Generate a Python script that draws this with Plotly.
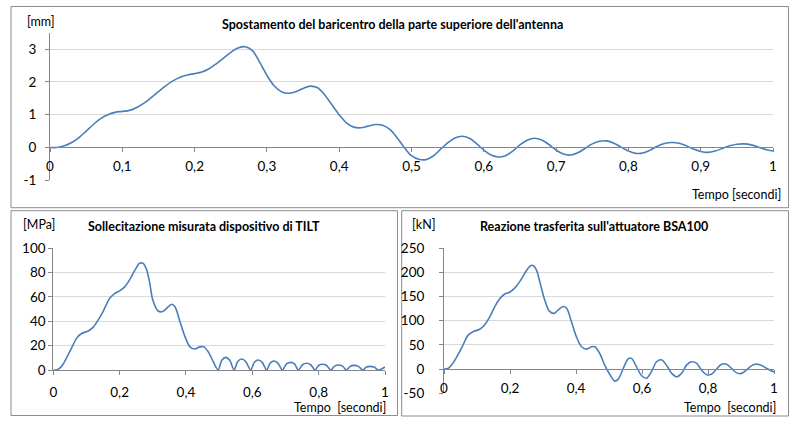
import plotly.graph_objects as go

# ---------------- data ----------------
t_top = [0, 0.01, 0.02, 0.03, 0.04, 0.05, 0.06, 0.07, 0.08, 0.09, 0.10, 0.11, 0.12, 0.13, 0.14,
         0.15, 0.16, 0.17, 0.18, 0.19, 0.20, 0.21, 0.22, 0.23, 0.24, 0.25, 0.26, 0.27, 0.28, 0.29,
         0.30, 0.31, 0.32, 0.33, 0.34, 0.35, 0.36, 0.37, 0.38, 0.39, 0.40, 0.41, 0.42, 0.43, 0.44,
         0.45, 0.46, 0.47, 0.48, 0.49, 0.50, 0.51, 0.52, 0.53, 0.54, 0.55, 0.56, 0.57, 0.58, 0.59,
         0.60, 0.61, 0.62, 0.63, 0.64, 0.65, 0.66, 0.67, 0.68, 0.69, 0.70, 0.71, 0.72, 0.73, 0.74,
         0.75, 0.76, 0.77, 0.78, 0.79, 0.80, 0.81, 0.82, 0.83, 0.84, 0.85, 0.86, 0.87, 0.88, 0.89,
         0.90, 0.91, 0.92, 0.93, 0.94, 0.95, 0.96, 0.97, 0.98, 0.99, 1.00]
disp_mm = [0, 0.0, 0.05, 0.15, 0.3, 0.5, 0.7, 0.88, 1.0, 1.07, 1.1, 1.13, 1.22, 1.35, 1.52,
           1.7, 1.88, 2.03, 2.14, 2.21, 2.25, 2.3, 2.4, 2.55, 2.72, 2.9, 3.03, 3.07, 2.95, 2.6,
           2.2, 1.88, 1.7, 1.65, 1.7, 1.8, 1.87, 1.82, 1.6, 1.3, 1.0, 0.75, 0.62, 0.6, 0.65,
           0.7, 0.68, 0.55, 0.3, 0.0, -0.25, -0.36, -0.37, -0.26, -0.06, 0.14, 0.29, 0.34, 0.28, 0.12,
           -0.08, -0.23, -0.29, -0.25, -0.11, 0.08, 0.22, 0.28, 0.23, 0.09, -0.08, -0.2, -0.23, -0.16, -0.03,
           0.11, 0.19, 0.2, 0.13, 0.01, -0.11, -0.18, -0.17, -0.08, 0.04, 0.12, 0.15, 0.13, 0.05, -0.05,
           -0.12, -0.15, -0.11, -0.03, 0.05, 0.1, 0.11, 0.08, 0.01, -0.06, -0.11]

t_stress = [0, 0.01, 0.025, 0.04, 0.055, 0.07, 0.085, 0.105, 0.12, 0.135, 0.15, 0.17, 0.186, 0.2,
            0.216, 0.23, 0.246, 0.26, 0.27, 0.28, 0.29, 0.30, 0.316, 0.33, 0.347, 0.357, 0.367,
            0.382, 0.397, 0.412, 0.427, 0.442, 0.454, 0.467, 0.482, 0.497,
            0.508, 0.52, 0.532, 0.545, 0.556, 0.568, 0.58, 0.595, 0.606, 0.618, 0.63, 0.643,
            0.654, 0.665, 0.677, 0.691, 0.703, 0.716, 0.727, 0.739, 0.751, 0.764, 0.776, 0.789,
            0.8, 0.812, 0.824, 0.836, 0.848, 0.86, 0.872, 0.884, 0.895, 0.907, 0.92, 0.933,
            0.944, 0.955, 0.967, 0.98, 1.0]
stress_mpa = [0, 0, 3, 10, 18, 26, 30, 32, 35, 41, 48, 59, 63, 65,
              68.5, 74, 82, 87.7, 87.7, 83.5, 72.6, 57.5, 48.5, 48, 52, 54, 52,
              39.7, 27.4, 19, 17.3, 19, 19, 15, 7, 0,
              8, 10.4, 8, 0, 7, 9, 7, 0, 6.3, 8.2, 6.3, 0,
              5.7, 7.4, 5.7, 0, 5, 6.3, 5, 0, 4.3, 5.5, 4.3, 0,
              3.7, 4.7, 3.7, 0, 3.2, 4.1, 3.2, 0, 3, 3.8, 3, 0,
              2.4, 3, 2.4, 0, 2.5]

t_react = [0, 0.012, 0.027, 0.042, 0.058, 0.073, 0.088, 0.108, 0.123, 0.139, 0.154, 0.17, 0.184,
           0.2, 0.214, 0.23, 0.245, 0.26, 0.27, 0.28, 0.29, 0.305, 0.32, 0.334, 0.346, 0.361,
           0.371, 0.386, 0.401, 0.417, 0.432, 0.447, 0.457, 0.472, 0.487, 0.503, 0.518, 0.528,
           0.543, 0.558, 0.568, 0.583, 0.599, 0.614, 0.629, 0.644, 0.659, 0.674, 0.69, 0.705,
           0.72, 0.735, 0.75, 0.765, 0.78, 0.796, 0.81, 0.826, 0.841, 0.856, 0.872, 0.887,
           0.902, 0.917, 0.932, 0.947, 0.963, 0.978, 1.0]
react_kn = [0, 1, 12, 29, 50, 70, 77, 82, 91, 108, 129, 146, 155,
            159, 167, 181, 198, 212, 214, 205, 181, 143, 119, 115, 122, 129,
            126, 98, 67, 46, 41, 46, 46, 32, 8, -12, -25, -21,
            1, 21, 22, 5, -14, -19, -5, 15, 19, 8, -9, -16,
            -9, 8, 15, 12, -2, -12, -11, 0, 10, 10, 1, -8,
            -9, -2, 7, 10, 7, 1, -6]

# ---------------- styling ----------------
W, H = 800, 425
LINE = "#4a7ebb"
GRID = "#d9d9d9"
AXIS = "#868686"
BORDER = "#8c8c8c"
FONT = "Lato"
TXT = "#000000"


def px(x):
    return x / W


def py(y):
    return 1 - y / H


fig = go.Figure()
fig.add_trace(go.Scatter(x=t_top, y=disp_mm, mode="lines", line=dict(color=LINE, width=1.6, shape="spline", smoothing=1.0),
                         xaxis="x", yaxis="y", hoverinfo="skip"))
fig.add_trace(go.Scatter(x=t_stress, y=stress_mpa, mode="lines", line=dict(color=LINE, width=1.6, shape="spline", smoothing=0.8),
                         xaxis="x2", yaxis="y2", hoverinfo="skip"))
fig.add_trace(go.Scatter(x=t_react, y=react_kn, mode="lines", line=dict(color=LINE, width=1.6, shape="spline", smoothing=1.0),
                         xaxis="x3", yaxis="y3", hoverinfo="skip"))

tickfont = dict(family=FONT, size=13.5, color=TXT)

xcommon = dict(range=[0, 1], showgrid=False, zeroline=False, showline=True, linecolor=AXIS, linewidth=1,
               ticks="outside", ticklen=4, tickcolor=AXIS, tickfont=tickfont, fixedrange=True,
               automargin=False)
ycommon = dict(showgrid=True, gridcolor=GRID, gridwidth=1, zeroline=False, showline=True, linecolor=AXIS,
               linewidth=1, ticks="outside", ticklen=4, tickcolor=AXIS, tickfont=tickfont, fixedrange=True,
               automargin=False)

fig.update_layout(
    template="none",
    width=W, height=H, autosize=False,
    margin=dict(l=0, r=0, t=0, b=0, pad=0),
    paper_bgcolor="white", plot_bgcolor="white",
    showlegend=False,
    separators=", ",
    font=dict(family=FONT, color=TXT),
    xaxis=dict(xcommon, domain=[px(50), px(773)], dtick=0.1, tick0=0, anchor="free", position=py(147),
               ticklabelstandoff=3),
    yaxis=dict(ycommon, domain=[py(180.3), py(32.6)], range=[-1, 3.5], tickvals=[-1, 0, 1, 2, 3],
               ticktext=["-1", "0", "1", "2", "3"], anchor="x", ticklabelstandoff=6),
    xaxis2=dict(xcommon, domain=[px(53.3), px(385)], dtick=0.2, tick0=0, anchor="y2",
                ticklabelstandoff=6),
    yaxis2=dict(ycommon, domain=[py(370), py(248.3)], range=[0, 100], dtick=20, anchor="x2",
                ticklabelstandoff=0),
    xaxis3=dict(xcommon, domain=[px(444), px(774)], dtick=0.2, tick0=0, anchor="free", position=py(369),
                ticklabelstandoff=3),
    yaxis3=dict(ycommon, domain=[py(393.2), py(248)], range=[-50, 250], tickvals=[-50, 0, 50, 100, 150, 200, 250],
                ticktext=["-50", "0", "50", "100", "150", "200", "250"], anchor="x3", ticklabelstandoff=12),
)

shapes = [
    dict(type="rect", xref="paper", yref="paper", x0=px(11), x1=px(788.5), y0=py(207.7), y1=py(6.5),
         line=dict(color=BORDER, width=1), fillcolor="rgba(0,0,0,0)", layer="below"),
    dict(type="rect", xref="paper", yref="paper", x0=px(11), x1=px(397.5), y0=py(415.5), y1=py(210.7),
         line=dict(color=BORDER, width=1), fillcolor="rgba(0,0,0,0)", layer="below"),
    dict(type="rect", xref="paper", yref="paper", x0=px(401.7), x1=px(788.5), y0=py(416), y1=py(210.7),
         line=dict(color=BORDER, width=1), fillcolor="rgba(0,0,0,0)", layer="below"),
]
fig.update_layout(shapes=shapes)


def ann(text, x, y, xanchor="left", size=12, bold=False):
    return dict(text=("<b>%s</b>" % text) if bold else text, x=px(x), y=py(y), xref="paper", yref="paper",
                xanchor=xanchor, yanchor="middle", showarrow=False,
                font=dict(family=FONT, size=size, color=TXT))


NB = "\u00a0"
annotations = [
    ann("[mm]", 25, 21, size=12.5),
    ann("Spostamento del baricentro della parte superiore dell'antenna", 392, 24, xanchor="center", size=12.5, bold=True),
    ann("Tempo" + NB + "[secondi]", 783, 195, xanchor="right", size=12.5),
    ann("[MPa]", 21, 224, size=12.5),
    ann("Sollecitazione misurata dispositivo di TILT", 204, 227, xanchor="center", size=12.5, bold=True),
    ann("Tempo" + NB + NB + "[secondi]", 388, 407, xanchor="right", size=12.5),
    ann("[kN]", 410, 224, size=12.5),
    ann("Reazione trasferita sull'attuatore BSA100", 594, 227, xanchor="center", size=12.5, bold=True),
    ann("Tempo" + NB + NB + "[secondi]", 778, 407, xanchor="right", size=12.5),
]
fig.update_layout(annotations=annotations)

fig.write_html("out.html", config={"displayModeBar": False, "staticPlot": True},
               post_script="document.body.style.margin='0px';document.body.style.overflow='hidden';")
